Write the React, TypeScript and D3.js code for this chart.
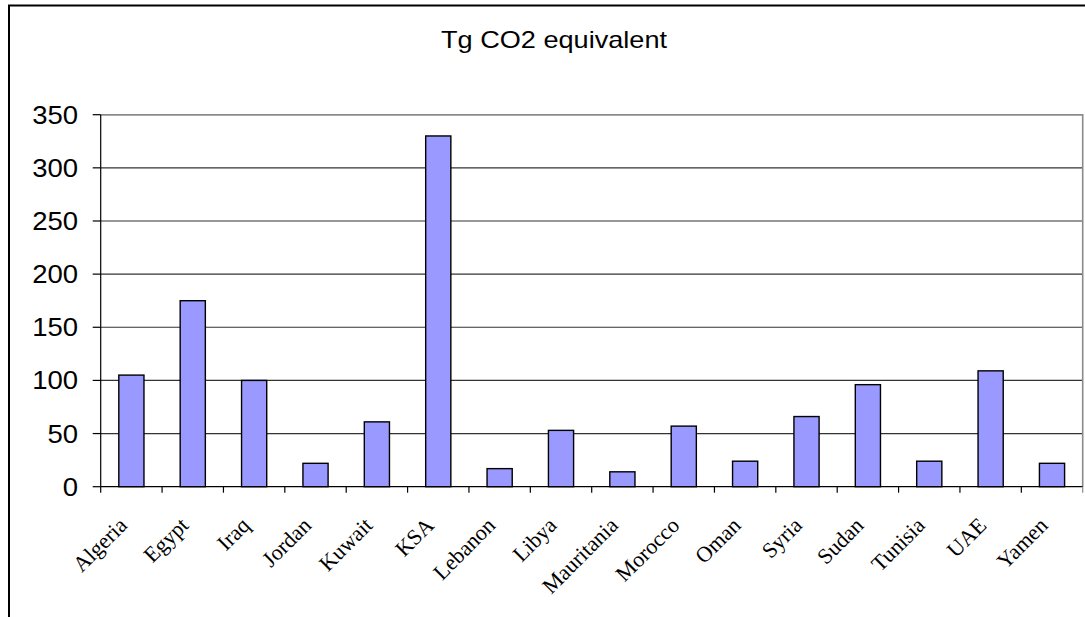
import React, { useEffect, useRef } from 'react';
import * as d3 from 'd3';

// Emissions by country
const countries = [
  'Algeria', 'Egypt', 'Iraq', 'Jordan', 'Kuwait', 'KSA', 'Lebanon', 'Libya',
  'Mauritania', 'Morocco', 'Oman', 'Syria', 'Sudan', 'Tunisia', 'UAE', 'Yamen',
];
const emissions = [105, 175, 100, 22, 61, 330, 17, 53, 14, 57, 24, 66, 96, 24, 109, 22];
const yTicks = [0, 50, 100, 150, 200, 250, 300, 350];
const chartTitle = 'Tg CO2 equivalent';

const W = 1085;
const H = 617;

const App: React.FC = () => {
  const ref = useRef<SVGSVGElement>(null);

  useEffect(() => {
    if (!ref.current) return;
    const svg = d3.select(ref.current);
    svg.selectAll('*').remove();

    const plot = { left: 100.7, right: 1082.7, top: 114.7, bottom: 486.7 };

    const x = d3.scaleBand<string>()
      .domain(countries)
      .range([plot.left, plot.right])
      .paddingInner(0.59)
      .paddingOuter(0.295);

    const y = d3.scaleLinear()
      .domain([0, 350])
      .range([plot.bottom, plot.top]);

    const step = x.step();
    const slotStart = (i: number) => plot.left + i * step;

    // outer frame (cut off at right and bottom)
    svg.append('rect')
      .attr('x', 9)
      .attr('y', 5.5)
      .attr('width', W + 20)
      .attr('height', H + 20)
      .attr('fill', 'white')
      .attr('stroke', '#000')
      .attr('stroke-width', 2);

    // title
    svg.append('text')
      .attr('x', 554)
      .attr('y', 48)
      .attr('text-anchor', 'middle')
      .attr('font-family', '"Liberation Sans", Arial, sans-serif')
      .attr('font-size', 24)
      .attr('textLength', 226)
      .attr('lengthAdjust', 'spacingAndGlyphs')
      .attr('fill', '#000')
      .text(chartTitle);

    // grid lines
    svg.append('g')
      .selectAll('line')
      .data(yTicks.filter(t => t > 0))
      .enter()
      .append('line')
      .attr('x1', plot.left)
      .attr('x2', plot.right)
      .attr('y1', d => y(d))
      .attr('y2', d => y(d))
      .attr('stroke', '#333')
      .attr('stroke-width', 1.2);

    // bars
    svg.append('g')
      .selectAll('rect')
      .data(emissions)
      .enter()
      .append('rect')
      .attr('x', (_, i) => x(countries[i])!)
      .attr('y', d => y(d))
      .attr('width', x.bandwidth())
      .attr('height', d => y(0) - y(d))
      .attr('fill', '#9999FF')
      .attr('stroke', '#000')
      .attr('stroke-width', 1.4);

    // plot area border (top / right, gray)
    svg.append('path')
      .attr('d', `M${plot.left},${plot.top}H${plot.right}V${plot.bottom}`)
      .attr('fill', 'none')
      .attr('stroke', '#8a8a8a')
      .attr('stroke-width', 1.6);

    // y axis
    const yAxis = svg.append('g');
    yAxis.append('line')
      .attr('x1', plot.left).attr('x2', plot.left)
      .attr('y1', plot.top).attr('y2', plot.bottom)
      .attr('stroke', '#000').attr('stroke-width', 1.2);
    yAxis.selectAll('line.tick')
      .data(yTicks)
      .enter()
      .append('line')
      .attr('class', 'tick')
      .attr('x1', plot.left - 8).attr('x2', plot.left)
      .attr('y1', d => y(d)).attr('y2', d => y(d))
      .attr('stroke', '#000').attr('stroke-width', 1.2);
    yAxis.selectAll('text')
      .data(yTicks)
      .enter()
      .append('text')
      .attr('transform', d => `translate(78,${y(d)}) scale(1.1,1)`)
      .attr('dy', '0.36em')
      .attr('text-anchor', 'end')
      .attr('font-family', '"Liberation Sans", Arial, sans-serif')
      .attr('font-size', 25)
      .attr('fill', '#000')
      .text(d => d);

    // x axis
    const xAxis = svg.append('g');
    xAxis.append('line')
      .attr('x1', plot.left).attr('x2', plot.right)
      .attr('y1', plot.bottom).attr('y2', plot.bottom)
      .attr('stroke', '#000').attr('stroke-width', 1.2);
    xAxis.selectAll('line.tick')
      .data(d3.range(countries.length + 1))
      .enter()
      .append('line')
      .attr('class', 'tick')
      .attr('x1', d => slotStart(d)).attr('x2', d => slotStart(d))
      .attr('y1', plot.bottom).attr('y2', plot.bottom + 6)
      .attr('stroke', d => (d === countries.length ? '#8a8a8a' : '#000'))
      .attr('stroke-width', 1.2);
    xAxis.selectAll('text')
      .data(countries)
      .enter()
      .append('text')
      .attr('transform', d => `translate(${x(d)! + x.bandwidth() / 2 - 3},${plot.bottom + 40}) rotate(-45)`)
      .attr('text-anchor', 'end')
      .attr('font-family', '"Liberation Serif", "Times New Roman", serif')
      .attr('font-size', 22)
      .attr('fill', '#000')
      .text(d => d);
  }, []);

  return (
    <div style={{ position: 'absolute', left: 0, top: 0 }}>
      <svg ref={ref} width={W} height={H} style={{ display: 'block' }} />
    </div>
  );
};

export default App;
